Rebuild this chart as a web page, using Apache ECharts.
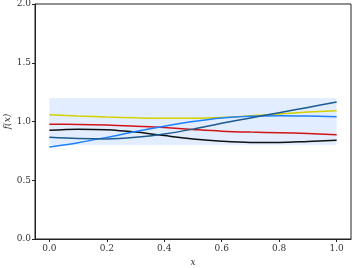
<!DOCTYPE html>
<html><head><meta charset="utf-8">
<script src="https://cdn.jsdelivr.net/npm/echarts@6/dist/echarts.min.js"></script>
<style>html,body{margin:0;padding:0;background:#fff}#c{width:353px;height:268px}</style>
</head><body><div id="c"></div>
<script>
const xs = [0,0.1,0.2,0.3,0.4,0.5,0.6,0.7,0.8,0.9,1.0];
const yellowY = [1.058,1.047,1.038,1.031,1.027,1.028,1.035,1.048,1.064,1.080,1.092];
const redY = [0.976,0.975,0.970,0.960,0.948,0.932,0.918,0.910,0.905,0.898,0.888];
const blackY = [0.925,0.935,0.930,0.910,0.880,0.852,0.832,0.822,0.822,0.830,0.840];
const brightBlueY = [0.783,0.820,0.865,0.915,0.960,1.000,1.030,1.045,1.050,1.047,1.041];
const darkBlueY = [0.865,0.855,0.852,0.865,0.893,0.935,0.985,1.030,1.075,1.120,1.166];
const bandLow = 0.8, bandHigh = 1.2, bandX0 = 0, bandX1 = 1;
const xTicks = [0,0.2,0.4,0.6,0.8,1.0];
const yTicks = [0,0.5,1.0,1.5,2.0];

const font = 'DejaVu Serif';
function pts(ys){ return xs.map((x,i)=>[x,ys[i]]); }
function line(ys,color,z){
  return {type:'line',data:pts(ys),smooth:0.35,showSymbol:false,symbol:'none',z:z,
    lineStyle:{color:color,width:1.5},animation:false};
}
const chart = echarts.init(document.getElementById('c'),null,{renderer:'canvas'});
chart.setOption({
  animation:false,
  grid:{left:35,right:2,top:4,bottom:29,containLabel:false,outerBoundsMode:'none',
    show:true,borderColor:'#222',borderWidth:1,backgroundColor:'transparent'},
  xAxis:{type:'value',min:-0.05,max:1.05,
    name:'x',nameLocation:'middle',nameGap:19,nameMoveOverlap:false,
    nameTextStyle:{fontFamily:font,fontStyle:'italic',fontSize:9,color:'#333'},
    axisLine:{show:true,onZero:false,lineStyle:{color:'#222',width:1}},
    axisTick:{show:true,length:3,customValues:xTicks,lineStyle:{color:'#222'}},
    axisLabel:{customValues:xTicks,fontFamily:font,fontSize:9,color:'#333',margin:5,
      formatter:v=>v.toFixed(1)},
    splitLine:{show:false}},
  yAxis:{type:'value',min:0,max:2,interval:0.5,
    name:'f(x)',nameLocation:'middle',nameGap:23,nameRotate:90,nameMoveOverlap:false,
    nameTextStyle:{fontFamily:font,fontStyle:'italic',fontSize:9,color:'#333'},
    axisLine:{show:true,onZero:false,lineStyle:{color:'#222',width:1}},
    axisTick:{show:true,length:3,lineStyle:{color:'#222'}},
    axisLabel:{fontFamily:font,fontSize:9,color:'#333',margin:4,formatter:v=>v.toFixed(1)},
    splitLine:{show:false}},
  series:[
    {type:'line',data:[],markArea:{silent:true,itemStyle:{color:'rgba(30,127,255,0.13)'},
      data:[[{coord:[bandX0,bandHigh]},{coord:[bandX1,bandLow]}]]}},
    line(yellowY,'#d4d000',3),
    line(redY,'#d01414',4),
    line(blackY,'#111111',5),
    line(brightBlueY,'#1e7fff',6),
    line(darkBlueY,'#1d5a90',7)
  ]
});
</script></body></html>
